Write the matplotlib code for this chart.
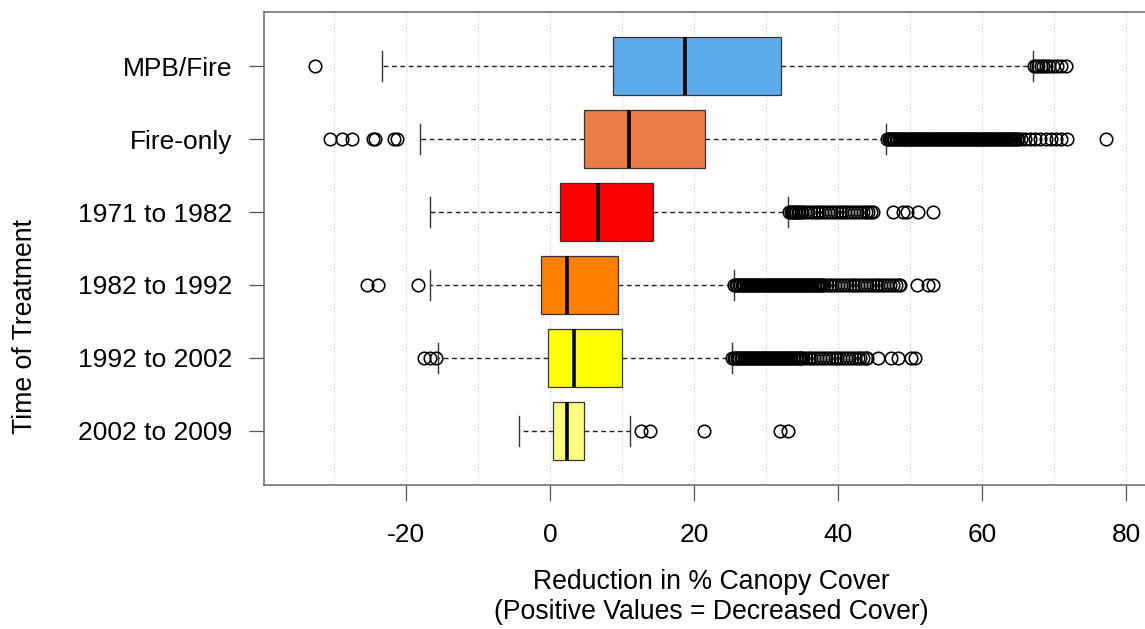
import matplotlib.pyplot as plt

plt.rcParams['font.family'] = ['Liberation Sans', 'DejaVu Sans']

# groups, listed from bottom to top of the chart
groups = ['2002 to 2009', '1992 to 2002', '1982 to 1992', '1971 to 1982', 'Fire-only', 'MPB/Fire']
colors = ['#FFFF80', '#FFFF00', '#FF8000', '#FF0000', '#EC7C47', '#5DAAEA']

q1 = [0.45, -0.3, -1.3, 1.35, 4.7, 8.7]
median = [2.3, 3.4, 2.3, 6.6, 11.0, 18.7]
q3 = [4.7, 10.0, 9.5, 14.3, 21.5, 32.1]
whis_lo = [-4.3, -15.5, -16.7, -16.6, -18.0, -23.3]
whis_hi = [11.1, 25.2, 25.5, 33.0, 46.7, 67.0]

# outliers (the dense runs are many overlapping points)
out_2002 = [12.7, 13.9, 21.4, 31.9, 33.1]
out_1992 = [-17.5, -16.6, -15.8,
            25.3, 25.5, 25.7, 25.9, 26.1, 26.3, 26.5, 26.7, 26.9, 27.1, 27.3, 27.5,
            27.7, 27.9, 28.1, 28.3, 28.5, 28.7, 28.9, 29.1, 29.3, 29.5, 29.7, 29.9,
            30.1, 30.3, 30.5, 30.7, 30.9, 31.1, 31.3, 31.5, 31.7, 31.9, 32.1, 32.3,
            32.5, 32.7, 32.9, 33.1, 33.3, 33.5, 33.7, 33.9, 34.1, 34.3, 34.5, 34.7,
            34.9, 35.1,
            35.5, 35.9, 36.3, 36.7, 37.1, 37.5, 37.9, 38.3, 38.7, 39.1, 39.5, 39.9,
            40.3, 40.7, 41.1, 41.5, 41.9, 42.3, 42.7, 43.1, 43.5, 43.9,
            44.0, 45.5, 47.4, 48.3, 50.1, 50.7]
out_1982 = [-25.4, -23.9, -18.3,
            25.6, 25.8, 26.0, 26.2, 26.4, 26.6, 26.8, 27.0, 27.2, 27.4, 27.6, 27.8,
            28.0, 28.2, 28.4, 28.6, 28.8, 29.0, 29.2, 29.4, 29.6, 29.8, 30.0, 30.2,
            30.4, 30.6, 30.8, 31.0, 31.2, 31.4, 31.6, 31.8, 32.0, 32.2, 32.4, 32.6,
            32.8, 33.0, 33.2, 33.4, 33.6, 33.8, 34.0, 34.2, 34.4, 34.6, 34.8, 35.0,
            35.2, 35.4, 35.6, 35.8, 36.0, 36.2, 36.4, 36.6, 36.8, 37.0, 37.2, 37.4,
            37.6, 37.8, 38.0,
            38.4, 38.8, 39.2, 39.6, 40.0, 40.4, 40.8, 41.2, 41.6, 42.0, 42.4, 42.8,
            43.2, 43.6, 44.0, 44.4, 44.8, 45.2, 45.6, 46.0, 46.4, 46.8, 47.2, 47.6,
            48.0, 48.4,
            48.6, 51.0, 52.5, 53.2]
out_1971 = [33.2, 33.4, 33.6, 33.8, 34.0, 34.2, 34.4, 34.6, 34.8, 35.0,
            35.4, 35.8, 36.2, 36.6, 37.0, 37.4, 37.8, 38.2, 38.6, 39.0, 39.4, 39.8,
            40.2, 40.6, 41.0, 41.4, 41.8, 42.2, 42.6, 43.0, 43.4, 43.8, 44.2, 44.6,
            44.9, 47.6, 49.0, 49.6, 51.1, 53.1]
out_fire = [-30.5, -28.9, -27.5, -24.5, -24.3, -21.7, -21.3,
            46.8, 47.0, 47.2, 47.4, 47.6, 47.8, 48.0, 48.2, 48.4, 48.6, 48.8,
            49.0, 49.2, 49.4, 49.6, 49.8, 50.0, 50.2, 50.4, 50.6, 50.8,
            51.0, 51.2, 51.4, 51.6, 51.8, 52.0, 52.2, 52.4, 52.6, 52.8,
            53.0, 53.2, 53.4, 53.6, 53.8, 54.0, 54.2, 54.4, 54.6, 54.8,
            55.0, 55.2, 55.4, 55.6, 55.8, 56.0, 56.2, 56.4, 56.6, 56.8,
            57.0, 57.2, 57.4, 57.6, 57.8, 58.0, 58.2, 58.4, 58.6, 58.8,
            59.0, 59.2, 59.4, 59.6, 59.8, 60.0, 60.2, 60.4, 60.6, 60.8,
            61.0, 61.2, 61.4, 61.6, 61.8, 62.0, 62.2, 62.4, 62.6, 62.8,
            63.0, 63.2, 63.4, 63.6, 63.8, 64.0, 64.2, 64.4, 64.6, 64.8, 65.0,
            65.4, 65.9, 66.6, 67.3, 68.0, 68.8, 69.5, 70.3, 71.0, 71.8, 77.2]
out_mpb = [-32.6, 67.2, 67.5, 67.8, 68.1, 68.4, 68.8, 69.3, 69.8, 70.4, 71.0, 71.6]
outliers = [out_2002, out_1992, out_1982, out_1971, out_fire, out_mpb]

xticks = [-20, 0, 20, 40, 60, 80]
grid_x = [-30, -20, -10, 0, 10, 20, 30, 40, 50, 60, 70, 80]

stats = []
for i in range(len(groups)):
    stats.append({'med': median[i], 'q1': q1[i], 'q3': q3[i],
                  'whislo': whis_lo[i], 'whishi': whis_hi[i], 'fliers': outliers[i]})

fig = plt.figure(figsize=(11.45, 6.29), dpi=100)
ax = fig.add_axes([264 / 1145, 1 - 485 / 629, (1158 - 264) / 1145, (485 - 12) / 629])

for gx in grid_x:
    ax.axvline(gx, color='#d8d8d8', lw=0.8, ls=(0, (1.5, 1.5)), zorder=0)

pos = list(range(1, len(groups) + 1))
bp = ax.bxp(stats, positions=pos, vert=False, widths=0.8, capwidths=0.4,
            patch_artist=True, showfliers=True,
            boxprops=dict(edgecolor='#333333', linewidth=0.9),
            medianprops=dict(color='black', linewidth=2.6, solid_capstyle='butt'),
            whiskerprops=dict(color='#222222', linewidth=1.0, linestyle=(0, (3.5, 2.5))),
            capprops=dict(color='#333333', linewidth=1.0),
            flierprops=dict(marker='o', markersize=9, markerfacecolor='none',
                            markeredgecolor='black', markeredgewidth=1.15))
for patch, c in zip(bp['boxes'], colors):
    patch.set_facecolor(c)

ax.set_xlim(-39.7, 84.4)
ax.set_ylim(0.26, 6.74)
ax.set_yticks(pos)
ax.set_yticklabels(groups)
ax.set_xticks(xticks)
ax.set_xticklabels([str(v) for v in xticks])

ax.tick_params(axis='y', length=11, width=0.9, color='#555555', pad=12, labelsize=19)
ax.tick_params(axis='x', length=11.5, width=0.9, color='#555555', pad=16, labelsize=19)
for s in ax.spines.values():
    s.set_color('#666666')
    s.set_linewidth(1.1)

fig.text(711 / 1145, 1 - 582 / 629, 'Reduction in % Canopy Cover', ha='center', va='center', fontsize=19.2)
fig.text(711 / 1145, 1 - 612 / 629, '(Positive Values = Decreased Cover)', ha='center', va='center', fontsize=19.2)
fig.text(25 / 1145, 1 - 326 / 629, 'Time of Treatment', rotation=90, ha='center', va='center', fontsize=19.2)

fig.savefig('out.png', dpi=100)
